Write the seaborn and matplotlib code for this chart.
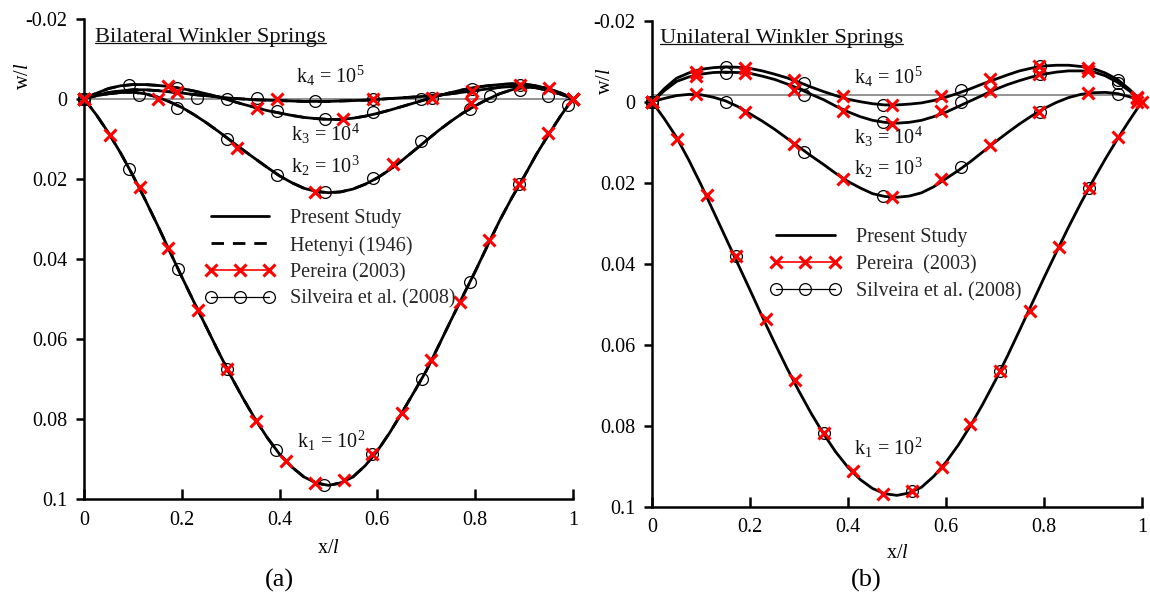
import matplotlib
matplotlib.use("Agg")
import matplotlib.pyplot as plt
import seaborn as sns
from matplotlib.lines import Line2D
from matplotlib.transforms import IdentityTransform

# ---------------- data ----------------
X_LINE = [0, 0.025, 0.05, 0.075, 0.1, 0.125, 0.15, 0.175, 0.2, 0.225, 0.25, 0.275, 0.3, 0.325,
          0.35, 0.375, 0.4, 0.425, 0.45, 0.475, 0.5, 0.525, 0.55, 0.575, 0.6, 0.625, 0.65,
          0.675, 0.7, 0.725, 0.75, 0.775, 0.8, 0.825, 0.85, 0.875, 0.9, 0.925, 0.95, 0.975, 1.0]

# Bilateral (panel a) - present study
BL_K1 = [0, 0.0040, 0.0085, 0.0136, 0.0192, 0.0252, 0.0315, 0.0380, 0.0445, 0.0508, 0.0570,
         0.0632, 0.0692, 0.0748, 0.0800, 0.0847, 0.0888, 0.0920, 0.0945, 0.0960, 0.0966,
         0.0960, 0.0945, 0.0917, 0.0880, 0.0835, 0.0785, 0.0733, 0.0680, 0.0618, 0.0555,
         0.0493, 0.0432, 0.0368, 0.0305, 0.0248, 0.0195, 0.0140, 0.0090, 0.0043, 0]
BL_K2 = [0, -0.0007, -0.0012, -0.0015, -0.0016, -0.0012, -0.0004, 0.0008, 0.0022, 0.0040, 0.0060,
         0.0082, 0.0105, 0.0128, 0.0150, 0.0172, 0.0193, 0.0210, 0.0224, 0.0232, 0.0235,
         0.0233, 0.0226, 0.0214, 0.0198, 0.0178, 0.0155, 0.0130, 0.0105, 0.0080, 0.0057,
         0.0036, 0.0018, 0.0002, -0.0012, -0.0022, -0.0028, -0.0030, -0.0025, -0.0014, 0]
BL_K3 = [0, -0.0013, -0.0025, -0.0032, -0.0035, -0.0035, -0.0033, -0.0030, -0.0025, -0.0019, -0.0012,
         -0.0004, 0.0005, 0.0014, 0.0022, 0.0030, 0.0036, 0.0042, 0.0047, 0.0050, 0.0052,
         0.0052, 0.0049, 0.0044, 0.0037, 0.0029, 0.0020, 0.0011, 0.0002, -0.0007, -0.0015,
         -0.0022, -0.0028, -0.0032, -0.0035, -0.0037, -0.0036, -0.0032, -0.0024, -0.0013, 0]
BL_K4 = [0, -0.0008, -0.0015, -0.0019, -0.0022, -0.0022, -0.0020, -0.0017, -0.0014, -0.0010, -0.0007,
         -0.0004, -0.0001, 0.0001, 0.0003, 0.0004, 0.0005, 0.0006, 0.0007, 0.0007, 0.0007,
         0.0006, 0.0005, 0.0004, 0.0002, 0.0000, -0.0002, -0.0004, -0.0006, -0.0009, -0.0012,
         -0.0016, -0.0020, -0.0024, -0.0028, -0.0030, -0.0030, -0.0027, -0.0020, -0.0011, 0]

# Bilateral - Pereira (2003)
PE_BL_K1_X = [0, 0.053, 0.115, 0.172, 0.233, 0.292, 0.352, 0.413, 0.472, 0.532, 0.589,
              0.65, 0.71, 0.769, 0.828, 0.89, 0.949, 1.0]
PE_BL_K1 = [0, 0.009, 0.0222, 0.0372, 0.0529, 0.0676, 0.0805, 0.0905, 0.096, 0.0953, 0.0888,
            0.0786, 0.0653, 0.0509, 0.0354, 0.0214, 0.0085, 0]
PE_BL_K2_X = [0, 0.152, 0.312, 0.472, 0.632, 0.792, 0.952, 1.0]
PE_BL_K2 = [0, 0.0002, 0.0123, 0.0234, 0.0163, 0.0011, -0.0027, 0]
PE_BL_K3_X = [0, 0.172, 0.353, 0.53, 0.711, 0.891, 1.0]
PE_BL_K3 = [0, -0.0031, 0.0023, 0.0051, -0.0002, -0.0035, 0]
PE_BL_K4_X = [0, 0.19, 0.394, 0.592, 0.793, 1.0]
PE_BL_K4 = [0, -0.0016, 0.0002, 0.0002, -0.0018, 0]

# Bilateral - Silveira et al. (2008)
SI_BL_K1_X = [0, 0.092, 0.192, 0.292, 0.393, 0.491, 0.589, 0.691, 0.789, 0.89, 0.99]
SI_BL_K1 = [0, 0.0177, 0.0426, 0.0676, 0.0878, 0.0965, 0.0888, 0.0701, 0.0459, 0.0214, 0.0015]
SI_BL_K2_X = [0, 0.19, 0.292, 0.394, 0.493, 0.592, 0.69, 0.789, 0.891]
SI_BL_K2 = [0, 0.0023, 0.0102, 0.019, 0.0234, 0.0198, 0.0106, 0.0026, -0.0022]
SI_BL_K3_X = [0, 0.093, 0.19, 0.292, 0.394, 0.493, 0.592, 0.69, 0.793, 0.891]
SI_BL_K3 = [0, -0.0035, -0.0027, 0.0002, 0.0032, 0.0052, 0.0034, 0.0002, -0.0024, -0.0035]
SI_BL_K4_X = [0, 0.113, 0.232, 0.353, 0.472, 0.592, 0.711, 0.83, 0.95]
SI_BL_K4 = [0, -0.001, -0.0002, -0.0002, 0.0007, 0.0002, -0.0002, -0.0006, -0.0007]

# Unilateral (panel b) - present study
UL_K1 = [0, 0.0042, 0.0088, 0.0144, 0.0205, 0.0270, 0.0335, 0.0400, 0.0465, 0.0531, 0.0595,
         0.0657, 0.0715, 0.0770, 0.0820, 0.0865, 0.0903, 0.0933, 0.0955, 0.0968, 0.0972,
         0.0966, 0.0952, 0.0925, 0.0890, 0.0848, 0.0800, 0.0747, 0.0690, 0.0629, 0.0565,
         0.0500, 0.0435, 0.0372, 0.0310, 0.0251, 0.0195, 0.0142, 0.0092, 0.0045, 0]
UL_K2 = [0, -0.0008, -0.0015, -0.0018, -0.0017, -0.0011, -0.0002, 0.0012, 0.0030, 0.0048, 0.0068,
         0.0090, 0.0112, 0.0134, 0.0155, 0.0177, 0.0197, 0.0213, 0.0227, 0.0234, 0.0236,
         0.0233, 0.0225, 0.0210, 0.0190, 0.0170, 0.0148, 0.0124, 0.0100, 0.0077, 0.0055,
         0.0035, 0.0017, 0.0002, -0.0010, -0.0018, -0.0022, -0.0023, -0.0020, -0.0012, 0]
UL_K3 = [0, -0.0027, -0.0050, -0.0061, -0.0068, -0.0072, -0.0073, -0.0072, -0.0070, -0.0063, -0.0055,
         -0.0044, -0.0032, -0.0018, -0.0005, 0.0011, 0.0025, 0.0037, 0.0046, 0.0051, 0.0053,
         0.0051, 0.0046, 0.0037, 0.0026, 0.0012, -0.0002, -0.0016, -0.0030, -0.0042, -0.0052,
         -0.0061, -0.0068, -0.0073, -0.0076, -0.0076, -0.0074, -0.0064, -0.0048, -0.0026, 0]
UL_K4 = [0, -0.0032, -0.0058, -0.0071, -0.0080, -0.0084, -0.0086, -0.0085, -0.0082, -0.0076, -0.0068,
         -0.0059, -0.0048, -0.0036, -0.0025, -0.0015, -0.0006, 0.0000, 0.0005, 0.0008, 0.0008,
         0.0006, 0.0003, -0.0003, -0.0011, -0.0021, -0.0032, -0.0044, -0.0055, -0.0066, -0.0076,
         -0.0083, -0.0088, -0.0090, -0.0090, -0.0087, -0.0082, -0.0071, -0.0055, -0.0030, 0]

# Unilateral - Pereira (2003)
PE_UL_K1_X = [0, 0.051, 0.113, 0.172, 0.233, 0.292, 0.352, 0.411, 0.472, 0.531, 0.591,
              0.65, 0.711, 0.771, 0.83, 0.891, 0.951, 1.0]
PE_UL_K1 = [0, 0.0092, 0.023, 0.038, 0.0536, 0.0687, 0.0818, 0.0912, 0.0969, 0.0961, 0.0902,
            0.0797, 0.0664, 0.0516, 0.0358, 0.0214, 0.0087, 0]
PE_UL_X = [0, 0.09, 0.19, 0.29, 0.39, 0.49, 0.59, 0.69, 0.79, 0.89, 0.99]
PE_UL_K2 = [0, -0.0018, 0.0025, 0.0104, 0.0192, 0.0236, 0.0192, 0.0108, 0.0025, -0.0022, 0.0002]
PE_UL_K3 = [0, -0.0064, -0.0072, -0.0028, 0.0024, 0.0054, 0.0024, -0.0026, -0.0069, -0.0075, -0.0008]
PE_UL_K4 = [0, -0.0074, -0.0083, -0.0053, -0.0013, 0.0009, -0.0013, -0.0057, -0.0088, -0.0082, -0.0012]

# Unilateral - Silveira et al. (2008)
SI_UL_K1_X = [0, 0.172, 0.352, 0.531, 0.711, 0.891]
SI_UL_K1 = [0, 0.038, 0.0818, 0.0961, 0.0664, 0.0214]
SI_UL_X = [0, 0.151, 0.311, 0.471, 0.631, 0.791, 0.951]
SI_UL_K2 = [0, 0.0001, 0.0123, 0.0232, 0.0162, 0.0025, -0.002]
SI_UL_K3 = [0, -0.0072, -0.0016, 0.005, 0.0002, -0.0069, -0.0045]
SI_UL_K4 = [0, -0.0086, -0.0045, 0.0007, -0.0028, -0.0088, -0.0053]

X_TICKS = [0, 0.2, 0.4, 0.6, 0.8, 1.0]
X_TICK_LABELS = ["0", "0.2", "0.4", "0.6", "0.8", "1"]
Y_TICKS = [-0.02, 0, 0.02, 0.04, 0.06, 0.08, 0.1]
Y_TICK_LABELS = ["-0.02", "0", "0.02", "0.04", "0.06", "0.08", "0.1"]
K_LABELS = [r"$\mathregular{k_1\,=\,10^2}$", r"$\mathregular{k_2\,=\,10^3}$",
            r"$\mathregular{k_3\,=\,10^4}$", r"$\mathregular{k_4\,=\,10^5}$"]
TITLES = ["Bilateral Winkler Springs", "Unilateral Winkler Springs"]

# ---------------- style ----------------
sns.set_theme(style="white")
plt.rcParams["font.family"] = ["Liberation Serif", "DejaVu Serif"]
plt.rcParams["mathtext.fontset"] = "custom"
plt.rcParams["mathtext.rm"] = "Liberation Serif"
plt.rcParams["mathtext.it"] = "Liberation Serif:italic"
plt.rcParams["axes.unicode_minus"] = False
FS = 14.5

fig = plt.figure(figsize=(11.5, 6.03), dpi=100)
axA = fig.add_axes([0.0730, 0.1725, 0.4252, 0.7968])
axB = fig.add_axes([0.5670, 0.1597, 0.4260, 0.8060])

CROSS = dict(marker="x", linestyle="", color="red", mec="red", markersize=9, mew=2.2,
             clip_on=False, zorder=5)
CIRC = dict(marker="o", linestyle="", color="black", mec="black", mfc="none", markersize=8.5,
            mew=0.9, clip_on=False, zorder=4)


def line(ax, x, y, **kw):
    sns.lineplot(x=x, y=y, ax=ax, estimator=None, sort=False, legend=False, **kw)


def panel(ax, curves, crosses, circles, zero_y, hetenyi):
    ax.axhline(zero_y, color="#8a8a8a", lw=1.3, zorder=1)
    for c in curves:
        line(ax, X_LINE, c, color="black", lw=2.0, zorder=3)
        if hetenyi:
            line(ax, X_LINE, c, color="black", lw=2.0, linestyle=(0, (4.5, 3.2)), zorder=3)
    for cx, cy in circles:
        line(ax, cx, cy, **CIRC)
    for cx, cy in crosses:
        line(ax, cx, cy, **CROSS)
    ax.set_xlim(0, 1)
    ax.set_ylim(0.1, -0.02)
    ax.set_xticks(X_TICKS)
    ax.set_xticklabels(X_TICK_LABELS)
    ax.set_yticks(Y_TICKS)
    ax.set_yticklabels(Y_TICK_LABELS)
    sns.despine(ax=ax)
    for s in ("left", "bottom"):
        ax.spines[s].set_color("black")
        ax.spines[s].set_linewidth(1.8)
    ax.tick_params(axis="y", direction="out", length=6, width=1.8, pad=6, labelsize=FS,
                   left=True, colors="black")
    ax.tick_params(axis="x", direction="in", length=7, width=1.8, labelsize=FS,
                   bottom=True, colors="black")
    ax.set_xlabel(r"x/$\mathit{l}$", fontsize=FS, color="black")
    ax.set_ylabel(r"w/$\mathit{l}$", fontsize=FS, color="black")
    ax.grid(False)


panel(axA, [BL_K1, BL_K2, BL_K3, BL_K4],
      [(PE_BL_K1_X, PE_BL_K1), (PE_BL_K2_X, PE_BL_K2), (PE_BL_K3_X, PE_BL_K3), (PE_BL_K4_X, PE_BL_K4)],
      [(SI_BL_K1_X, SI_BL_K1), (SI_BL_K2_X, SI_BL_K2), (SI_BL_K3_X, SI_BL_K3), (SI_BL_K4_X, SI_BL_K4)],
      0.0, True)
panel(axB, [UL_K1, UL_K2, UL_K3, UL_K4],
      [(PE_UL_K1_X, PE_UL_K1), (PE_UL_X, PE_UL_K2), (PE_UL_X, PE_UL_K3), (PE_UL_X, PE_UL_K4)],
      [(SI_UL_K1_X, SI_UL_K1), (SI_UL_X, SI_UL_K2), (SI_UL_X, SI_UL_K3), (SI_UL_X, SI_UL_K4)],
      -0.0017, False)

axA.tick_params(axis="x", pad=9)
axB.tick_params(axis="x", pad=8)
axA.yaxis.set_label_coords(-0.105, 0.88)
axB.yaxis.set_label_coords(-0.075, 0.875)
axA.xaxis.set_label_coords(0.5, -0.083)
axB.xaxis.set_label_coords(0.5, -0.076)

# curve labels
for ax, pos in ((axA, [(0.505, 0.0855), (0.493, 0.0167), (0.493, 0.0087), (0.503, -0.0057)]),
                (axB, [(0.482, 0.0855), (0.482, 0.0163), (0.482, 0.0088), (0.482, -0.0061)])):
    for lab, (px, py) in zip(K_LABELS, pos):
        ax.text(px, py, lab, fontsize=FS, ha="center", va="center", color="#111111", zorder=6)

# titles (underlined)
tA = axA.text(0.0225, 0.960, TITLES[0], transform=axA.transAxes, fontsize=16.2, ha="left",
              va="center", color="#111111")
tB = axB.text(0.016, 0.964, TITLES[1], transform=axB.transAxes, fontsize=16.2, ha="left",
              va="center", color="#111111")

# legends
hPS = Line2D([], [], color="black", lw=2.0)
hHE = Line2D([], [], color="black", lw=2.0, linestyle=(0, (4.5, 3.2)))
hPE = Line2D([], [], color="red", lw=1.2, marker="x", markersize=9, mew=2.2)
hSI = Line2D([], [], color="black", lw=0.9, marker="o", mfc="none", markersize=8.5, mew=0.9)
axA.legend([hPS, hHE, hPE, hSI],
           ["Present Study", "Hetenyi (1946)", "Pereira (2003)", "Silveira et al. (2008)"],
           loc="upper left", bbox_to_anchor=(0.247, 0.603), frameon=False, fontsize=FS,
           handlelength=3.5, handletextpad=0.75, labelspacing=0.37, borderpad=0,
           borderaxespad=0, numpoints=3)
axB.legend([hPS, hPE, hSI],
           ["Present Study", "Pereira  (2003)", "Silveira et al. (2008)"],
           loc="upper left", bbox_to_anchor=(0.241, 0.573), frameon=False, fontsize=FS,
           handlelength=3.5, handletextpad=0.75, labelspacing=0.39, borderpad=0,
           borderaxespad=0, numpoints=3)

fig.text(279 / 1150, 1 - 580 / 603, "(a)", fontsize=19, ha="center", va="center", color="black")
fig.text(866 / 1150, 1 - 580 / 603, "(b)", fontsize=19, ha="center", va="center", color="black")

# underline titles
fig.canvas.draw()
r = fig.canvas.get_renderer()
for t in (tA, tB):
    bb = t.get_window_extent(r)
    yy = bb.y0 + 0.2 * bb.height
    fig.add_artist(Line2D([bb.x0, bb.x1], [yy, yy], transform=IdentityTransform(),
                          color="#111111", lw=0.9))

fig.savefig("out.png", dpi=100)
